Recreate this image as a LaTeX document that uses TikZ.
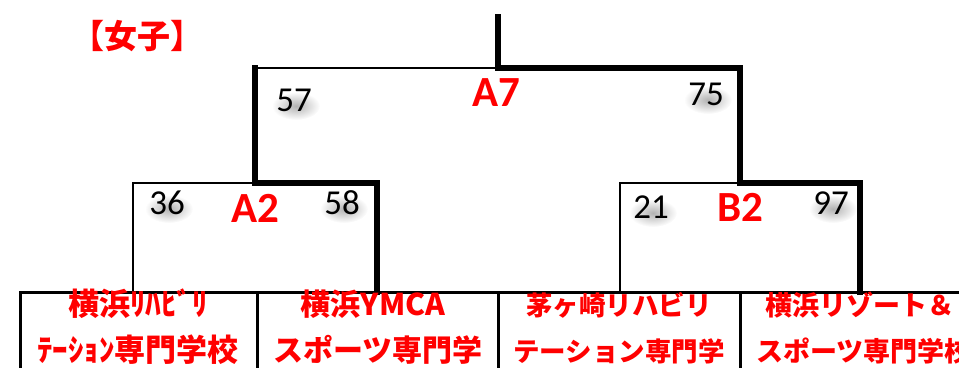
\documentclass[tikz,border=0pt]{standalone}
\usepackage{fontspec}
\usetikzlibrary{fadings}
\setmainfont{Carlito}
\newfontfamily\jpfont{Noto Sans CJK JP}
\definecolor{xred}{RGB}{255,0,0}
\tikzfading[name=softblob, inner color=transparent!0, outer color=transparent!100]
\tikzset{
  winline/.style={line width=6pt, line join=miter, line cap=rect},
  plainline/.style={line width=2.4pt},
  cellbox/.style={draw, line width=3pt, rectangle, outer sep=0pt, inner sep=0pt, minimum height=120pt, anchor=north west},
  num/.style={font=\fontsize{35}{35}\selectfont, text=black, inner sep=0pt},
  numshadow/.style={fill=black, opacity=0.3, path fading=softblob},
  match/.style={font=\bfseries\fontsize{43}{43}\selectfont, text=xred, inner sep=0pt},
  school/.style={font=\jpfont\bfseries, text=xred, inner sep=0pt, anchor=base},
  title/.style={font=\jpfont\bfseries\fontsize{33}{33}\selectfont, text=xred, inner sep=0pt}
}
\newcommand\scorelabel[3]{%
  \coordinate (#1p) at (#2);
  \fill[numshadow] ([xshift=2pt, yshift=-6pt]#1p) ellipse [x radius=24pt, y radius=14pt];
  \node[num] (#1) at (#1p) {#3};}
\begin{document}
\begin{tikzpicture}[x=1pt, y=-1pt]
\useasboundingbox (0,0) rectangle (959,367);
\clip (0,0) rectangle (959,367);

% title
\node[title] (ttl) at (137,36) {【女子】};

% bottom cells
\node[cellbox, minimum width=237pt] (c1) at (20,292) {};
\node[cellbox, minimum width=241pt] (c2) at (257,292) {};
\node[cellbox, minimum width=242pt] (c3) at (498,292) {};
\node[cellbox, minimum width=242pt] (c4) at (740,292) {};

% bracket points
\coordinate (top) at (498,17);
\coordinate (a7) at (498,68);
\coordinate (a7l) at (255,68);
\coordinate (a7r) at (740,68);
\coordinate (a2) at (255,183);
\coordinate (a2l) at (133,183);
\coordinate (a2r) at (377,183);
\coordinate (b2) at (740,183);
\coordinate (b2l) at (620,183);
\coordinate (b2r) at (860,183);

% thin lines
\draw[plainline] (a7l) -- (a7);
\draw[plainline] (a2l |- c1.north) -- (a2l) -- (a2);
\draw[plainline] (b2l |- c3.north) -- (b2l) -- (b2);

% winner lines
\draw[winline] (top) -- (a7) -- (a7r) -- (b2) -- (b2r) -- (b2r |- c4.north);
\draw[winline] (a7l) -- (a2) -- (a2r) -- (a2r |- c2.north);

% scores
\scorelabel{s57}{294,100}{57}
\scorelabel{s75}{706,94}{75}
\scorelabel{s36}{167,203}{36}
\scorelabel{s58}{342,203}{58}
\scorelabel{s21}{651,207}{21}
\scorelabel{s97}{831,203}{97}

% match names
\node[match] (mA7) at (496,93) {A7};
\node[match] (mA2) at (255,208) {A2};
\node[match] (mB2) at (740,207) {B2};

% school names
\node[school, font=\jpfont\bfseries\fontsize{31}{31}\selectfont] (t1a) at (138,315) {横浜ﾘﾊﾋﾞﾘ};
\node[school, font=\jpfont\bfseries\fontsize{31}{31}\selectfont] (t1b) at (138,361) {ﾃｰｼｮﾝ専門学校};
\node[school, font=\jpfont\bfseries\fontsize{30}{30}\selectfont] (t2a) at (373,315) {横浜YMCA};
\node[school, font=\jpfont\bfseries\fontsize{30}{30}\selectfont] (t2b) at (378,361) {スポーツ専門学};
\node[school, font=\jpfont\bfseries\fontsize{26.5}{26.5}\selectfont] (t3a) at (619,315) {茅ヶ崎リハビリ};
\node[school, font=\jpfont\bfseries\fontsize{26.5}{26.5}\selectfont] (t3b) at (619,361) {テーション専門学};
\node[school, font=\jpfont\bfseries\fontsize{27}{27}\selectfont] (t4a) at (860,315) {横浜リゾート＆};
\node[school, font=\jpfont\bfseries\fontsize{27}{27}\selectfont] (t4b) at (864,361) {スポーツ専門学校};
\end{tikzpicture}
\end{document}
